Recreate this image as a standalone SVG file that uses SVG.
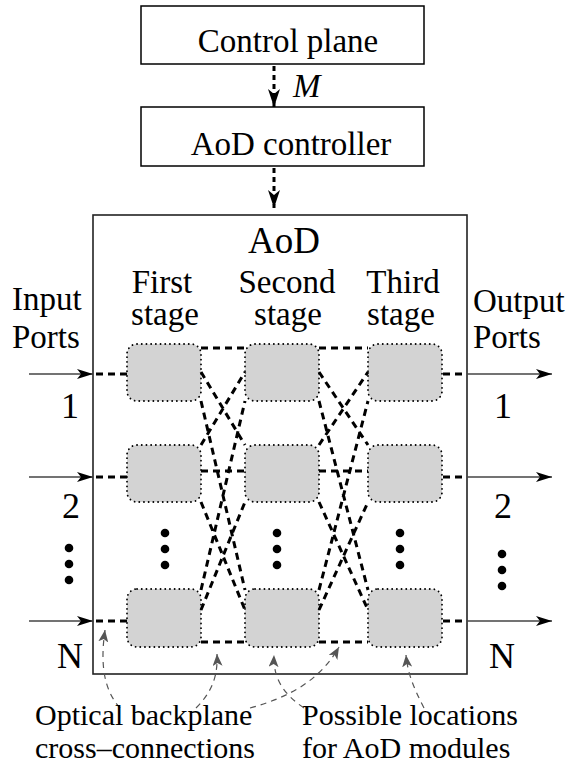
<svg xmlns="http://www.w3.org/2000/svg" width="568" height="768" viewBox="0 0 568 768">
<defs>
<marker id="ahC" viewBox="0 0 18 12" refX="18" refY="6" markerWidth="18" markerHeight="12" markerUnits="userSpaceOnUse" orient="auto"><path d="M0,0 L18,6 L0,12 L5,6 z" fill="#000" stroke="none"/></marker>
<marker id="ahP" viewBox="0 0 16 10" refX="16" refY="5" markerWidth="16" markerHeight="10" markerUnits="userSpaceOnUse" orient="auto"><path d="M0,0 L16,5 L0,10 L4,5 z" fill="#000" stroke="none"/></marker>
<marker id="ahG" viewBox="0 0 12 10" refX="12" refY="5" markerWidth="12" markerHeight="10" markerUnits="userSpaceOnUse" orient="auto"><path d="M0,0 L12,5 L0,10 L3,5 z" fill="#555" stroke="none"/></marker>
<rect id="modA" width="74" height="57" rx="10"/>
<rect id="modB" width="74" height="58" rx="10"/>
<g id="dots3"><circle cx="0" cy="0" r="4.3"/><circle cx="0" cy="16" r="4.3"/><circle cx="0" cy="32" r="4.3"/></g>
</defs>

<g id="control-plane">
<rect x="141" y="6" width="283" height="58" fill="#fff" stroke="#000" stroke-width="1.5"/>
<text x="288" y="52" text-anchor="middle" font-size="33" font-family="Times New Roman">Control plane</text>
</g>
<g id="aod-controller">
<rect x="141" y="107" width="283" height="59" fill="#fff" stroke="#000" stroke-width="1.5"/>
<text x="291" y="155" text-anchor="middle" font-size="33" font-family="Times New Roman">AoD controller</text>
</g>
<g id="aod">
<rect x="93" y="215" width="374" height="459" fill="#fff" stroke="#222" stroke-width="1.6"/>
<text x="284" y="253" text-anchor="middle" font-size="37" font-family="Times New Roman">AoD</text>
</g>

<g id="stage-labels">
<text x="162" y="293" text-anchor="middle" font-size="33" font-family="Times New Roman">First</text>
<text x="165" y="325" text-anchor="middle" font-size="33" font-family="Times New Roman">stage</text>
<text x="287" y="293" text-anchor="middle" font-size="33" font-family="Times New Roman">Second</text>
<text x="288" y="325" text-anchor="middle" font-size="33" font-family="Times New Roman">stage</text>
<text x="403" y="293" text-anchor="middle" font-size="33" font-family="Times New Roman">Third</text>
<text x="401" y="325" text-anchor="middle" font-size="33" font-family="Times New Roman">stage</text>
</g>

<g id="input-ports">
<text x="12" y="310" font-size="33" font-family="Times New Roman">Input</text>
<text x="12" y="348" font-size="33" font-family="Times New Roman">Ports</text>
<text x="70" y="418" text-anchor="middle" font-size="36" font-family="Times New Roman">1</text>
<text x="71" y="518" text-anchor="middle" font-size="36" font-family="Times New Roman">2</text>
<text x="70" y="668" text-anchor="middle" font-size="36" font-family="Times New Roman">N</text>
<use href="#dots3" x="69" y="548"/>
</g>
<g id="output-ports">
<text x="473" y="312" font-size="33" font-family="Times New Roman">Output</text>
<text x="473" y="348" font-size="33" font-family="Times New Roman">Ports</text>
<text x="503" y="418" text-anchor="middle" font-size="36" font-family="Times New Roman">1</text>
<text x="503" y="518" text-anchor="middle" font-size="36" font-family="Times New Roman">2</text>
<text x="502" y="668" text-anchor="middle" font-size="36" font-family="Times New Roman">N</text>
<use href="#dots3" x="502" y="554"/>
</g>

<g id="modules" fill="#d3d3d3" stroke="#000" stroke-width="1.8" stroke-dasharray="0.1 4.6" stroke-linecap="round">
<g id="m-1-1"><use href="#modA" x="127" y="344"/></g>
<g id="m-1-2"><use href="#modA" x="127" y="445"/></g>
<g id="m-1-N"><use href="#modB" x="127" y="589"/></g>
<g id="m-2-1"><use href="#modA" x="245" y="344"/></g>
<g id="m-2-2"><use href="#modA" x="245" y="445"/></g>
<g id="m-2-N"><use href="#modB" x="245" y="589"/></g>
<g id="m-3-1"><use href="#modA" x="368" y="344"/></g>
<g id="m-3-2"><use href="#modA" x="368" y="445"/></g>
<g id="m-3-N"><use href="#modB" x="368" y="589"/></g>
</g>
<g id="ellipses" fill="#000">
<use href="#dots3" x="165" y="533"/>
<use href="#dots3" x="277" y="533"/>
<use href="#dots3" x="400" y="533"/>
</g>

<g id="connectors">
<g stroke="#000" stroke-width="3" stroke-dasharray="5 4" fill="none">
<line x1="274" y1="66" x2="274" y2="107" marker-end="url(#ahC)"/>
<line x1="274" y1="168" x2="274" y2="208" marker-end="url(#ahC)"/>
</g>
<text x="293" y="97" font-size="33" font-style="italic" font-family="Times New Roman">M</text>

<g stroke="#444" stroke-width="1.6" fill="none">
<line x1="29" y1="374" x2="93" y2="374" marker-end="url(#ahP)"/>
<line x1="29" y1="477" x2="93" y2="477" marker-end="url(#ahP)"/>
<line x1="29" y1="621" x2="93" y2="621" marker-end="url(#ahP)"/>
<line x1="467" y1="374" x2="552" y2="374" marker-end="url(#ahP)"/>
<line x1="467" y1="477" x2="552" y2="477" marker-end="url(#ahP)"/>
<line x1="467" y1="621" x2="552" y2="621" marker-end="url(#ahP)"/>
</g>

<g stroke="#000" stroke-width="3" stroke-dasharray="7 5" fill="none">
<path d="M96,374 H127 M96,477 H127 M96,621 H127 M443,374 H467 M443,477 H467 M443,621 H467"/>
<path d="M201,348 H245 M201,471 H245 M201,642 H245 M201,372 L245,445 M201,445 L245,372 M201,401 L245,590 M201,590 L245,401 M201,502 L245,610 M201,610 L245,502"/>
<path d="M319,348 H368 M319,471 H368 M319,642 H368 M319,372 L368,445 M319,445 L368,372 M319,401 L368,590 M319,590 L368,401 M319,502 L368,610 M319,610 L368,502"/>
</g>

<g stroke="#555" stroke-width="1.2" stroke-dasharray="6 5" fill="none">
<path d="M120,708 C104,690 100,665 105,630" marker-end="url(#ahG)"/>
<path d="M196,708 C212,692 218,676 217,654" marker-end="url(#ahG)"/>
<path d="M250,708 C290,697 320,680 339,647" marker-end="url(#ahG)"/>
<path d="M304,708 C285,695 273,680 274,655" marker-end="url(#ahG)"/>
<path d="M424,708 C415,690 408,676 406,655" marker-end="url(#ahG)"/>
</g>
</g>

<g id="annotations">
<text x="35" y="725" font-size="30" font-family="Times New Roman">Optical backplane</text>
<text x="35" y="758" font-size="30" font-family="Times New Roman">cross–connections</text>
<text x="302" y="725" font-size="30" font-family="Times New Roman">Possible locations</text>
<text x="302" y="758" font-size="30" font-family="Times New Roman">for AoD modules</text>
</g>
</svg>
